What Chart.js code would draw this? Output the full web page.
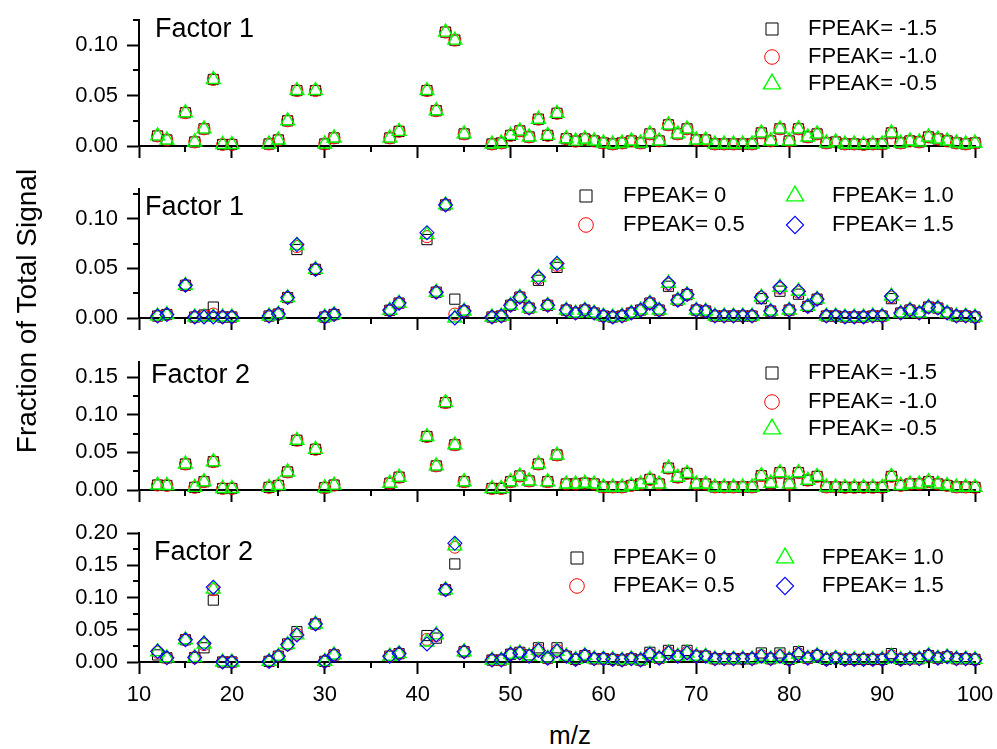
<!DOCTYPE html>
<html>
<head>
<meta charset="utf-8">
<script src="https://cdn.jsdelivr.net/npm/chart.js@4.4.1/dist/chart.umd.min.js"></script>
<style>
  body { margin: 0; background: #fff; }
  #wrap { position: relative; width: 997px; height: 749px; overflow: hidden; font-family: Arial, "Liberation Sans", sans-serif; }
  canvas { position: absolute; left: 0; }
  .axtitle { position: absolute; color: #000; white-space: nowrap; text-align: center; line-height: 32px; }
</style>
</head>
<body>
<div id="wrap">
  <canvas id="p1" width="997" height="152" style="top:10px"></canvas>
  <canvas id="p2" width="997" height="155" style="top:179px"></canvas>
  <canvas id="p3" width="997" height="154" style="top:352px"></canvas>
  <canvas id="p4" width="997" height="189" style="top:523px"></canvas>
  <div class="axtitle" style="left:-173px; top:295px; width:400px; font-size:28px; transform:rotate(-90deg);">Fraction of Total Signal</div>
  <div class="axtitle" style="left:470px; top:719px; width:200px; font-size:26px;">m/z</div>
</div>
<script>
// m/z values (shared x for every panel)
const mz = [12,13,15,16,17,18,19,20,24,25,26,27,29,30,31,37,38,41,42,43,44,45,
  48,49,50,51,52,53,54,55,56,57,
  58,59,60,61,62,63,64,65,66,67,
  68,69,70,71,72,73,74,75,76,77,
  78,79,80,81,82,83,84,85,86,87,
  88,89,90,91,92,93,94,95,96,97,
  98,99,100,101];

const xMajor = [10,20,30,40,50,60,70,80,90,100];
const xMinor = [15,25,35,45,55,65,75,85,95];

const labelsNeg = ['FPEAK= -1.5','FPEAK= -1.0','FPEAK= -0.5'];
const labelsPos = ['FPEAK= 0','FPEAK= 0.5','FPEAK= 1.0','FPEAK= 1.5'];

// Panel 1 - Factor 1, negative FPEAK (the three runs overlap)
const f1Neg = [.010,.006,.033,.004,.017,.066,.0015,.0015,.002,.006,.025,.055,.055,.002,.008,.008,.0145,.055,.035,.113,.105,.012,
  .002,.003,.0105,.015,.009,.0266,.0105,.0324,.0072,.0048,
  .007,.005,.003,.002,.003,.005,.003,.012,.005,.021,
  .012,.017,.006,.006,.002,.002,.002,.002,.002,.013,
  .005,.017,.005,.017,.009,.012,.003,.004,.002,.002,
  .0015,.002,.002,.013,.003,.005,.004,.009,.007,.005,
  .003,.002,.003,.002];

// Panel 2 - Factor 1, positive FPEAK
const f1P00 = [.002,.0035,.033,.001,.003,.011,.001,.001,.002,.004,.0206,.069,.049,.001,.0035,.0078,.015,.079,.026,.114,.019,.007,
  .001,.002,.0128,.021,.010,.038,.0128,.051,.008,.005,
  .008,.005,.002,.001,.002,.005,.008,.015,.008,.032,
  .018,.0236,.008,.007,.002,.002,.002,.002,.002,.0195,
  .007,.027,.008,.024,.0117,.019,.002,.002,.001,.001,
  .001,.002,.002,.0195,.005,.008,.005,.011,.010,.005,
  .002,.002,.001,.001];
const f1P05 = [.002,.0035,.033,.001,.002,.004,.001,.001,.002,.004,.0206,.072,.049,.001,.0035,.0078,.015,.082,.026,.114,.004,.007,
  .001,.002,.0128,.021,.010,.040,.0128,.053,.008,.005,
  .008,.005,.002,.001,.002,.005,.008,.015,.008,.034,
  .018,.0236,.008,.007,.002,.002,.002,.002,.002,.021,
  .007,.030,.008,.026,.0117,.019,.002,.002,.001,.001,
  .001,.002,.002,.021,.005,.008,.005,.011,.010,.005,
  .002,.002,.001,.001];
const f1P10 = [.002,.0035,.033,.001,.001,.001,.001,.001,.002,.004,.0206,.073,.049,.001,.0035,.0078,.015,.084,.026,.114,.000,.007,
  .001,.002,.0128,.021,.010,.041,.0128,.054,.008,.005,
  .008,.005,.002,.001,.002,.005,.008,.015,.008,.035,
  .018,.0236,.008,.007,.002,.002,.002,.002,.002,.021,
  .007,.031,.008,.027,.0117,.019,.002,.002,.001,.001,
  .001,.002,.002,.022,.005,.008,.005,.011,.010,.005,
  .002,.002,.001,.001];
const f1P15 = [.002,.0035,.033,.001,.001,.001,.001,.001,.002,.004,.0206,.074,.049,.001,.0035,.0078,.015,.086,.026,.114,.000,.007,
  .001,.002,.0128,.021,.010,.041,.0128,.055,.008,.005,
  .008,.005,.002,.001,.002,.005,.008,.015,.008,.035,
  .018,.0236,.008,.007,.002,.002,.002,.002,.002,.021,
  .007,.031,.008,.027,.0117,.019,.002,.002,.001,.001,
  .001,.002,.002,.022,.005,.008,.005,.011,.010,.005,
  .002,.002,.001,.001];

// Panel 3 - Factor 2, negative FPEAK (overlapping)
const f2Neg = [.0066,.006,.0345,.0035,.011,.0376,.002,.002,.0035,.006,.024,.066,.054,.003,.0065,.009,.017,.071,.032,.116,.060,.011,
  .002,.002,.011,.0186,.012,.0345,.011,.0465,.008,.008,
  .009,.008,.004,.004,.004,.006,.008,.014,.008,.029,
  .017,.022,.008,.008,.004,.004,.004,.004,.004,.019,
  .009,.023,.008,.023,.013,.018,.004,.004,.0035,.0035,
  .0035,.0035,.0035,.018,.006,.008,.008,.011,.008,.006,
  .004,.004,.0035,.002];

// Panel 4 - Factor 2, positive FPEAK
const f2P00 = [.011,.0065,.0345,.007,.022,.096,.000,.000,.001,.009,.028,.047,.059,.001,.011,.009,.013,.041,.037,.112,.152,.016,
  .003,.003,.012,.015,.011,.022,.006,.022,.009,.004,
  .010,.005,.005,.004,.003,.005,.003,.015,.006,.018,
  .009,.018,.009,.009,.005,.005,.005,.005,.005,.014,
  .005,.014,.004,.016,.006,.010,.004,.006,.004,.004,
  .004,.004,.004,.013,.004,.005,.005,.010,.006,.008,
  .005,.005,.004,.003];
const f2P05 = [.015,.0065,.0345,.007,.027,.112,.000,.000,.001,.009,.027,.043,.059,.001,.011,.009,.013,.035,.041,.112,.178,.016,
  .003,.003,.012,.014,.009,.019,.006,.018,.009,.004,
  .010,.005,.005,.004,.003,.005,.003,.012,.006,.015,
  .009,.015,.009,.009,.005,.005,.005,.005,.005,.010,
  .005,.010,.004,.013,.006,.010,.004,.006,.004,.004,
  .004,.004,.004,.010,.004,.005,.005,.010,.006,.008,
  .005,.005,.004,.003];
const f2P10 = [.016,.0065,.0345,.007,.028,.113,.000,.000,.001,.009,.027,.042,.059,.001,.011,.009,.013,.031,.042,.112,.180,.016,
  .003,.003,.012,.014,.009,.018,.006,.017,.009,.004,
  .010,.005,.005,.004,.003,.005,.003,.012,.006,.014,
  .009,.014,.009,.009,.005,.005,.005,.005,.005,.009,
  .005,.009,.004,.012,.006,.010,.004,.006,.004,.004,
  .004,.004,.004,.009,.004,.005,.005,.010,.006,.008,
  .005,.005,.004,.003];
const f2P15 = [.0165,.0065,.0345,.007,.029,.116,.000,.000,.001,.009,.027,.042,.059,.001,.011,.009,.013,.028,.042,.112,.184,.016,
  .003,.003,.012,.014,.009,.018,.006,.017,.009,.004,
  .010,.005,.005,.004,.003,.005,.003,.012,.006,.014,
  .009,.014,.009,.009,.005,.005,.005,.005,.005,.009,
  .005,.009,.004,.012,.006,.010,.004,.006,.004,.004,
  .004,.004,.004,.009,.004,.005,.005,.010,.006,.008,
  .005,.005,.004,.003];

// marker look for square / circle / triangle / diamond
const markers = [
  { style: 'rect',     color: '#000000', r: 7.2, lr: 8.5, lw: 1 },
  { style: 'circle',   color: '#ff0000', r: 6.0, lr: 7.3, lw: 1 },
  { style: 'triangle', color: '#00ff00', r: 8.0, lr: 9.8, lw: 1.4 },
  { style: 'rectRot',  color: '#0000ff', r: 7.0, lr: 8.6, lw: 1.1 }
];

function drawMarker(ctx, style, r, x, y) {
  if (Chart.helpers && Chart.helpers.drawPoint) {
    Chart.helpers.drawPoint(ctx, { pointStyle: style, radius: r, borderWidth: ctx.lineWidth, rotation: 0 }, x, y);
    return;
  }
  ctx.beginPath();
  if (style === 'circle') ctx.arc(x, y, r, 0, Math.PI * 2);
  ctx.stroke();
}

// minor ticks + legend + panel text, drawn on top of each panel
const panelExtras = {
  id: 'panelExtras',
  afterDraw(chart, args, opts) {
    const ctx = chart.ctx;
    const xs = chart.scales.x, ys = chart.scales.y;
    ctx.save();
    ctx.strokeStyle = '#000';
    ctx.lineWidth = 2;
    ctx.beginPath();
    xMinor.forEach(v => {
      const px = Math.round(xs.getPixelForValue(v));
      ctx.moveTo(px, ys.bottom);
      ctx.lineTo(px, ys.bottom + 6);
    });
    opts.yMinor.forEach(v => {
      const py = Math.round(ys.getPixelForValue(v));
      ctx.moveTo(xs.left, py);
      ctx.lineTo(xs.left - 6, py);
    });
    ctx.stroke();

    // legend
    ctx.font = '22px Arial, "Liberation Sans", sans-serif';
    ctx.textBaseline = 'middle';
    ctx.textAlign = 'left';
    opts.legend.forEach(it => {
      const m = markers[it.m];
      const ds = chart.data.datasets[it.ds];
      ctx.strokeStyle = m.color;
      ctx.fillStyle = 'rgba(0,0,0,0)';
      ctx.lineWidth = m.lw;
      drawMarker(ctx, m.style, m.lr, it.mx, it.y - opts.top);
      ctx.fillStyle = '#000';
      ctx.fillText(ds.label, it.tx, it.y - opts.top);
    });

    ctx.font = '27px Arial, "Liberation Sans", sans-serif';
    ctx.textBaseline = 'alphabetic';
    ctx.fillText(opts.title, opts.titleX, opts.titleY - opts.top);
    ctx.restore();
  }
};

function makeSets(seriesList, labels, markerIdx) {
  return seriesList.map((vals, i) => {
    const m = markers[markerIdx[i]];
    return {
      label: labels[i],
      data: mz.map((x, k) => ({ x: x, y: vals[k] })),
      pointStyle: m.style,
      pointRadius: m.r,
      pointBorderWidth: m.lw,
      pointBorderColor: m.color,
      pointBackgroundColor: 'rgba(0,0,0,0)',
      borderColor: m.color,
      showLine: false,
      clip: false,
      order: seriesList.length - i
    };
  });
}

function makePanel(id, top, yMax, yMajor, yMinor, sets, legend, title, titleX, titleY, showX) {
  new Chart(document.getElementById(id), {
    type: 'scatter',
    data: { datasets: sets },
    options: {
      responsive: false,
      animation: false,
      events: [],
      layout: { padding: { top: 10, right: 22, left: 0, bottom: 0 } },
      plugins: {
        legend: { display: false },
        tooltip: { enabled: false },
        panelExtras: { top: top, yMinor: yMinor, legend: legend, title: title, titleX: titleX, titleY: titleY }
      },
      scales: {
        x: {
          type: 'linear', min: 10, max: 100,
          afterBuildTicks: s => { s.ticks = xMajor.map(v => ({ value: v })); },
          afterFit: s => { s.height = showX ? 50 : 16; s.paddingLeft = 0; s.paddingRight = 0; },
          grid: { drawOnChartArea: false, tickLength: 12, tickWidth: 2, tickColor: '#000' },
          border: { color: '#000', width: 2 },
          ticks: { display: showX, autoSkip: false, maxRotation: 0, color: '#000', padding: 8,
                   font: { size: 22, family: 'Arial, "Liberation Sans", sans-serif' } }
        },
        y: {
          type: 'linear', min: 0, max: yMax,
          afterBuildTicks: s => { s.ticks = yMajor.map(v => ({ value: v })); },
          afterFit: s => { s.width = 139; s.paddingTop = 0; s.paddingBottom = 0; },
          grid: { drawOnChartArea: false, tickLength: 12, tickWidth: 2, tickColor: '#000' },
          border: { color: '#000', width: 2 },
          ticks: { color: '#000', padding: 9, callback: v => v.toFixed(2),
                   font: { size: 22, family: 'Arial, "Liberation Sans", sans-serif' } }
        }
      }
    },
    plugins: [panelExtras]
  });
}

// Panel 1
makePanel('p1', 10, 0.125, [0, 0.05, 0.10], [0.025, 0.075, 0.125],
  makeSets([f1Neg, f1Neg, f1Neg], labelsNeg, [0, 1, 2]),
  [{ ds: 0, m: 0, mx: 772, tx: 808, y: 29 },
   { ds: 1, m: 1, mx: 772, tx: 808, y: 57 },
   { ds: 2, m: 2, mx: 772, tx: 808, y: 84 }],
  'Factor 1', 155, 37, false);

// Panel 2
makePanel('p2', 179, 0.13, [0, 0.05, 0.10], [0.025, 0.075, 0.125],
  makeSets([f1P00, f1P05, f1P10, f1P15], labelsPos, [0, 1, 2, 3]),
  [{ ds: 0, m: 0, mx: 586, tx: 623, y: 196 },
   { ds: 1, m: 1, mx: 586, tx: 623, y: 225 },
   { ds: 2, m: 2, mx: 795, tx: 832, y: 196 },
   { ds: 3, m: 3, mx: 795, tx: 832, y: 225 }],
  'Factor 1', 145, 215, false);

// Panel 3
makePanel('p3', 352, 0.17, [0, 0.05, 0.10, 0.15], [0.025, 0.075, 0.125],
  makeSets([f2Neg, f2Neg, f2Neg], labelsNeg, [0, 1, 2]),
  [{ ds: 0, m: 0, mx: 772, tx: 808, y: 373 },
   { ds: 1, m: 1, mx: 772, tx: 808, y: 402 },
   { ds: 2, m: 2, mx: 772, tx: 808, y: 429 }],
  'Factor 2', 151, 383, false);

// Panel 4
makePanel('p4', 523, 0.20, [0, 0.05, 0.10, 0.15, 0.20], [0.025, 0.075, 0.125, 0.175],
  makeSets([f2P00, f2P05, f2P10, f2P15], labelsPos, [0, 1, 2, 3]),
  [{ ds: 0, m: 0, mx: 577, tx: 613, y: 558 },
   { ds: 1, m: 1, mx: 577, tx: 613, y: 586 },
   { ds: 2, m: 2, mx: 785, tx: 822, y: 558 },
   { ds: 3, m: 3, mx: 785, tx: 822, y: 586 }],
  'Factor 2', 154, 560, true);
</script>
</body>
</html>
